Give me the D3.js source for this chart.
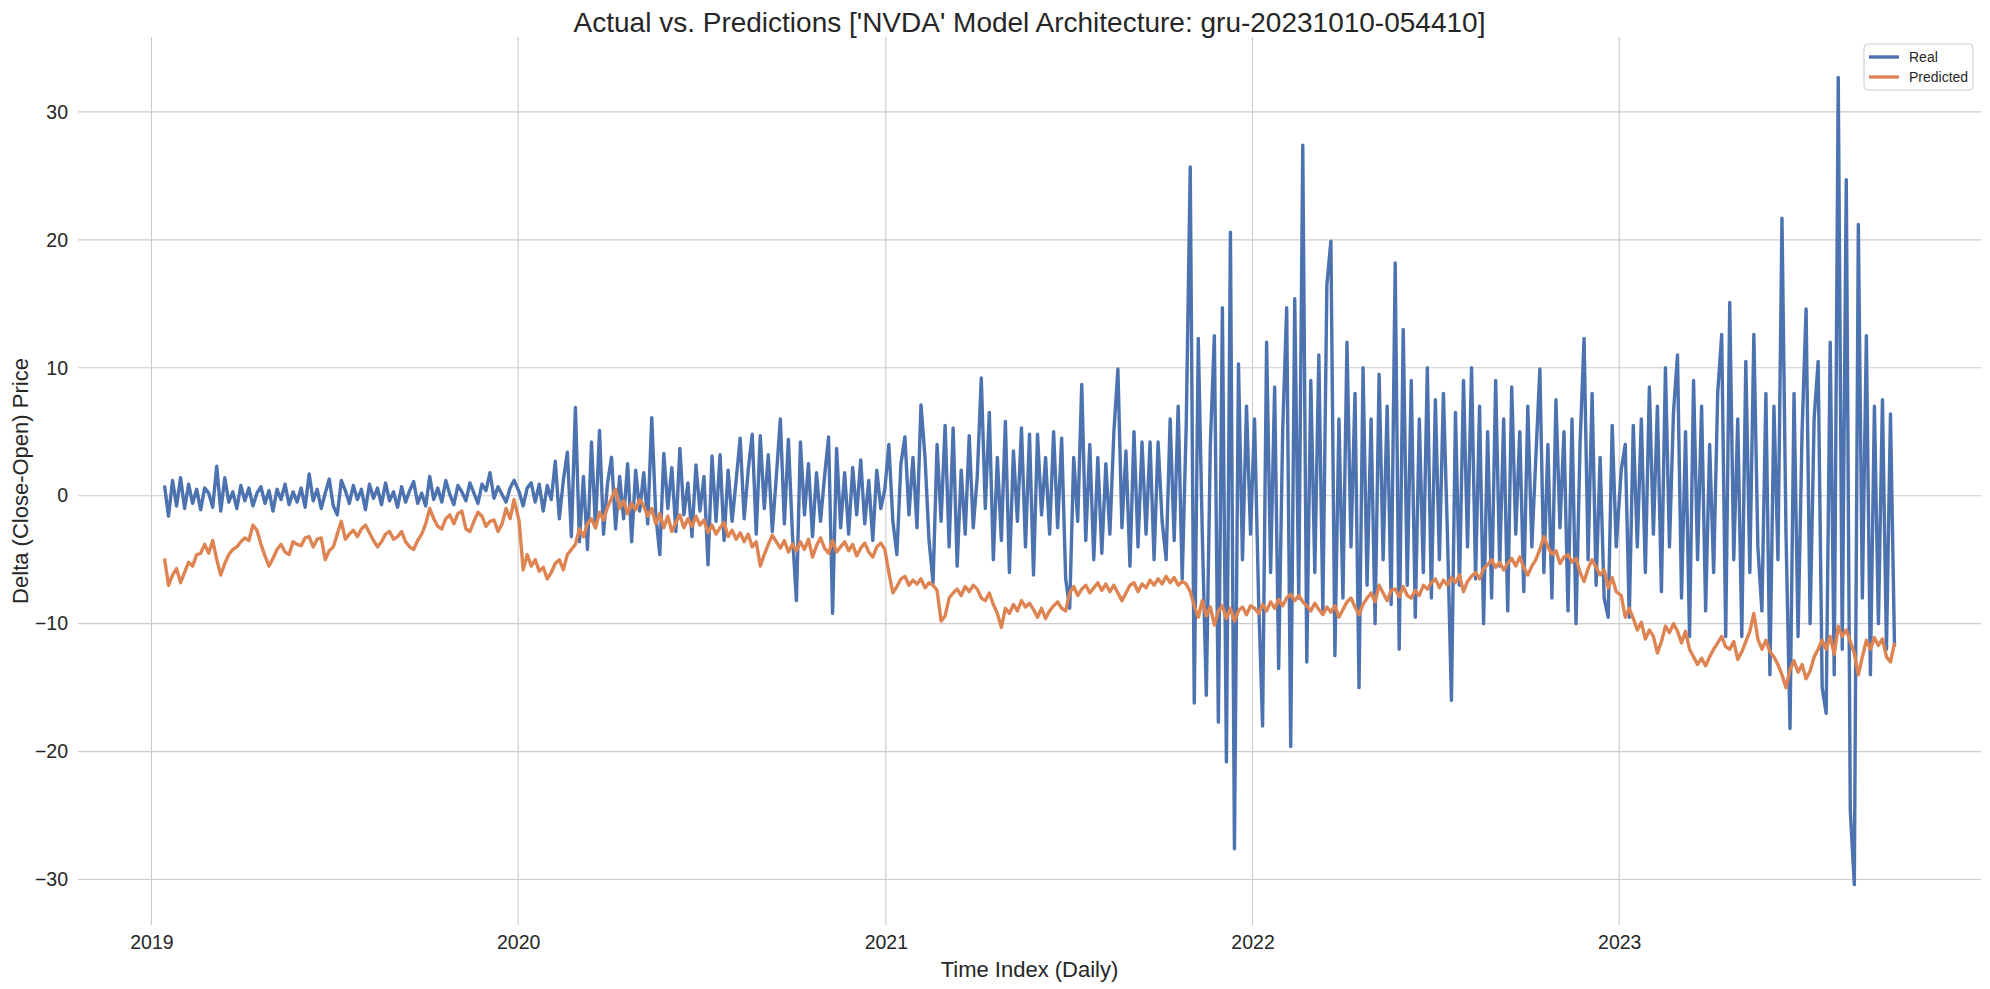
<!DOCTYPE html>
<html>
<head>
<meta charset="utf-8">
<script src="https://d3js.org/d3.v7.min.js"></script>
<style>
  body { margin: 0; background: #fff; }
  text { font-family: "Liberation Sans", Arial, sans-serif; fill: #262626; }
</style>
</head>
<body>
<div id="chart"></div>
<script>
// sampled every 4 calendar days, each yearly block starts at its own date
var yearStarts = ["2019-01-14", "2020-01-02", "2021-01-04", "2022-01-03", "2023-01-03"];
var stepDays = 4;

var real2019 = [0.8,-1.6,1.2,-0.8,1.4,-1.0,0.9,-0.6,0.5,-1.1,
  0.6,0.2,-0.9,2.3,-1.2,1.4,-0.5,0.3,-1.0,0.8,
  -0.4,0.6,-0.8,0.2,0.7,-0.6,0.4,-1.2,0.5,-0.3,
  0.9,-0.7,0.3,-0.5,0.6,-0.9,1.7,-0.4,0.5,-1.0,
  0.2,1.3,-0.8,-1.5,1.2,0.4,-0.6,0.8,-0.3,0.5,
  -1.1,0.9,-0.2,0.6,-0.7,1.0,-0.4,0.3,-0.9,0.7,
  -0.5,0.4,1.1,-0.6,0.2,-0.8,1.5,-0.3,0.6,-0.5,
  1.2,0.1,-0.7,0.8,0.3,-0.4,1.0,0.2,-0.6,0.9,
  0.4,1.8,-0.2,0.7,0.1,-0.5,0.6,1.2];
var real2020 = [0.3,-0.8,0.6,1.0,-0.5,0.9,-1.2,0.8,-0.3,2.7,
  -1.8,1.2,3.4,-3.2,6.9,-3.6,1.5,-4.2,4.2,-2.5,
  5.1,-3.0,1.0,3.0,-2.6,1.5,-1.8,2.5,-3.6,2.0,
  -1.2,1.8,-2.2,6.1,-1.5,-4.6,3.3,-1.0,2.2,-2.8,
  3.7,-1.5,1.0,-3.2,2.4,-1.2,1.5,-5.4,3.1,-2.0,
  3.2,-3.5,2.0,-2.0,1.2,4.5,-1.8,2.0,4.8,-3.0,
  4.7,-1.0,3.2,-2.8,1.5,6.0,-2.2,4.4,-3.0,-8.2,
  4.2,-1.5,2.5,-3.2,1.8,-2.0,1.5,4.6,-9.2,3.7,
  -2.5,1.8,-3.0,2.2,-1.5,2.8,-2.2,1.2,-3.5,2.0,
  -1.0,0.5];
var real2021 = [4.0,-2.0,-4.6,2.5,4.6,-1.5,3.0,-2.5,7.1,3.0,
  -3.5,-6.8,4.0,-2.0,5.5,-4.0,5.3,-5.5,2.0,-3.0,
  4.7,-2.5,1.5,9.2,-1.0,6.5,-5.0,3.0,-3.5,5.8,
  -6.0,3.5,-2.0,5.3,-4.0,4.8,-6.2,4.8,-1.5,3.0,
  -3.0,5.0,-2.5,4.5,-6.5,-8.8,3.0,-2.0,8.7,-3.5,
  4.0,-5.0,3.0,-4.5,2.5,-3.0,5.0,9.9,-2.5,3.5,
  -5.5,5.0,-4.0,4.2,-3.0,4.2,-5.0,4.2,-2.0,-5.0,
  6.0,-3.5,7.0,-6.5,5.5,25.7,-16.2,12.3,-3.0,-15.6,
  4.0,12.5,-17.7,14.7,-20.8,20.6,-27.6,10.3,-5.0,7.0,
  -3.0];
var real2022 = [6.0,-8.0,-18.0,12.0,-6.0,8.5,-13.5,5.0,14.7,-19.6,
  15.4,-8.0,27.4,-13.0,9.0,-6.0,11.0,-9.0,16.5,19.9,
  -12.5,6.0,-8.0,12.0,-4.0,8.0,-15.0,10.0,-7.0,6.0,
  -10.0,9.5,-5.0,7.0,-8.5,18.2,-12.0,13.0,-7.0,9.0,
  -9.5,6.0,-6.0,10.0,-8.0,7.5,-5.0,8.0,-3.0,-16.0,
  6.5,-7.0,9.0,-4.0,10.0,-6.5,7.0,-10.0,5.0,-8.0,
  9.0,-5.5,6.0,-9.0,8.5,-3.0,5.0,-7.5,7.0,-4.0,
  3.0,9.9,-6.0,4.0,-8.0,7.5,-2.5,5.0,-9.0,6.0,
  -10.0,4.0,12.3,-5.0,8.0,-7.0,3.0,-8.0,-9.5,5.5,
  -4.0];
var real2023 = [2.0,4.0,-9.5,5.5,-4.0,6.0,-6.0,8.5,-3.0,7.0,
  -7.5,10.0,-4.0,6.5,11.0,-8.0,5.0,-11.0,9.0,-5.0,
  7.0,-9.0,4.0,-6.0,8.0,12.6,-11.0,15.1,-5.0,6.0,
  -11.0,10.5,-6.0,12.6,-4.0,-9.0,8.0,-14.0,7.0,-5.0,
  21.7,-3.0,-18.2,8.0,-11.0,5.0,14.6,-10.0,6.0,10.5,
  -15.0,-17.0,12.0,-14.0,32.7,-12.0,24.7,-24.6,-30.4,21.2,
  -8.0,12.5,-14.0,7.0,-10.0,7.5,-12.0,6.4,-11.8];

var pred2019 = [-4.9,-7.0,-6.2,-5.7,-6.8,-6.0,-5.2,-5.5,-4.6,-4.5,
  -3.8,-4.5,-3.5,-5.0,-6.2,-5.3,-4.6,-4.2,-4.0,-3.6,
  -3.3,-3.5,-2.3,-2.7,-3.8,-4.7,-5.5,-4.9,-4.2,-3.8,
  -4.4,-4.6,-3.6,-3.8,-3.9,-3.3,-3.2,-4.0,-3.4,-3.3,
  -5.0,-4.3,-4.0,-3.0,-2.0,-3.4,-3.0,-2.7,-3.2,-2.6,
  -2.3,-2.9,-3.5,-4.0,-3.6,-3.0,-2.8,-3.4,-3.2,-2.8,
  -3.6,-4.0,-4.2,-3.5,-3.0,-2.2,-1.0,-1.8,-2.4,-2.6,
  -1.8,-1.5,-2.2,-1.4,-1.2,-2.6,-2.8,-2.0,-1.3,-1.6,
  -2.4,-2.0,-1.9,-2.8,-2.2,-1.0,-1.8,-0.3];
var pred2020 = [-2.0,-5.8,-4.6,-5.5,-5.0,-5.9,-5.6,-6.5,-6.0,-5.3,
  -5.0,-5.8,-4.6,-4.2,-3.8,-2.6,-3.2,-2.2,-1.8,-2.5,
  -1.3,-1.9,-0.9,-0.2,0.5,-1.0,-0.4,-1.4,-0.6,-1.1,
  -0.3,-0.8,-1.6,-1.0,-2.2,-1.4,-2.5,-1.6,-2.8,-2.1,
  -1.5,-2.5,-1.8,-2.4,-1.6,-2.3,-1.9,-2.9,-2.3,-3.0,
  -2.5,-2.1,-3.2,-2.7,-3.4,-2.9,-3.6,-3.0,-4.0,-3.6,
  -5.5,-4.6,-3.8,-3.1,-3.6,-4.1,-3.5,-4.4,-3.8,-4.3,
  -3.6,-4.2,-3.4,-4.8,-3.9,-3.3,-4.1,-4.5,-3.5,-4.4,
  -4.0,-3.6,-4.3,-3.8,-4.7,-4.1,-3.7,-4.4,-4.8,-4.0,
  -3.7,-4.2];
var pred2021 = [-6.0,-7.6,-7.1,-6.5,-6.3,-7.0,-6.6,-6.9,-6.5,-7.2,
  -6.8,-7.0,-7.4,-9.8,-9.4,-8.0,-7.6,-7.3,-7.8,-7.1,
  -7.5,-7.0,-7.3,-8.0,-8.2,-7.6,-8.5,-9.2,-10.3,-8.8,
  -9.2,-8.5,-9.0,-8.2,-8.7,-8.4,-8.9,-9.5,-8.8,-9.6,
  -9.0,-8.6,-8.3,-8.8,-9.0,-7.6,-7.1,-7.8,-7.3,-7.0,
  -7.6,-7.2,-6.8,-7.4,-6.9,-7.5,-7.0,-7.6,-8.2,-7.6,
  -7.0,-6.8,-7.5,-6.9,-7.2,-6.6,-7.0,-6.5,-6.9,-6.3,
  -6.8,-6.4,-7.0,-6.7,-6.9,-7.5,-8.6,-9.5,-8.2,-9.4,
  -8.7,-10.1,-9.0,-8.6,-9.6,-8.8,-9.8,-9.0,-8.7,-9.3,
  -8.6];
var pred2022 = [-8.8,-9.2,-8.5,-9.0,-8.3,-8.8,-8.1,-8.6,-8.0,-7.7,
  -8.2,-7.8,-8.3,-8.6,-9.0,-8.4,-8.9,-9.3,-8.7,-9.1,
  -8.6,-9.5,-8.9,-8.3,-8.0,-8.7,-9.3,-8.5,-8.0,-7.6,
  -8.3,-7.0,-7.6,-8.2,-7.4,-7.3,-7.9,-7.1,-7.8,-8.0,
  -7.4,-7.8,-7.0,-7.3,-6.8,-6.5,-7.2,-6.6,-7.0,-6.4,
  -6.8,-6.2,-7.5,-6.7,-6.3,-6.0,-6.5,-5.7,-5.4,-5.0,
  -5.6,-5.2,-5.8,-5.3,-4.9,-5.5,-4.8,-5.6,-6.2,-5.5,
  -5.0,-4.2,-3.2,-4.0,-4.6,-4.3,-5.3,-4.8,-4.6,-5.2,
  -4.9,-6.0,-6.7,-5.7,-5.0,-5.6,-6.2,-5.8,-7.2,-6.4,
  -7.5];
var pred2023 = [-7.8,-9.5,-8.8,-9.6,-10.5,-9.9,-11.2,-10.5,-11.0,-12.3,
  -11.4,-10.2,-10.7,-10.0,-10.6,-11.5,-10.6,-12.0,-12.6,-13.2,
  -12.7,-13.3,-12.6,-12.0,-11.5,-11.0,-11.8,-12.0,-11.4,-12.8,
  -12.2,-11.4,-10.6,-9.2,-11.2,-12.0,-11.3,-12.2,-12.6,-13.2,
  -14.0,-15.0,-13.6,-12.9,-13.8,-13.2,-14.3,-13.7,-12.6,-12.0,
  -11.3,-12.0,-11.0,-12.4,-10.2,-11.0,-10.5,-11.4,-12.3,-14.0,
  -12.6,-11.3,-12.0,-11.1,-11.7,-11.2,-12.6,-13.0,-11.5];

var seriesNames = ["Real", "Predicted"];
var seriesColors = ["#4c72b0", "#dd8452"];
var yTicks = [-30, -20, -10, 0, 10, 20, 30];
var xTickYears = [2019, 2020, 2021, 2022, 2023];

var titleText = "Actual vs. Predictions ['NVDA' Model Architecture: gru-20231010-054410]";

// build date/value pairs
var parseDate = d3.timeParse("%Y-%m-%d");
function buildSeries(blocks) {
  var out = [];
  blocks.forEach(function(vals, k) {
    var start = parseDate(yearStarts[k]);
    vals.forEach(function(v, j) {
      out.push({ date: d3.timeDay.offset(start, j * stepDays), value: v });
    });
  });
  return out;
}
var realData = buildSeries([real2019, real2020, real2021, real2022, real2023]);
var predData = buildSeries([pred2019, pred2020, pred2021, pred2022, pred2023]);
var allSeries = [realData, predData];

var svgWidth = 1990, svgHeight = 989;
var margin = { top: 37, right: 9, bottom: 64, left: 78 };
var chartWidth = svgWidth - margin.left - margin.right;
var chartHeight = svgHeight - margin.top - margin.bottom;

var svg = d3.select("#chart").append("svg")
  .attr("width", svgWidth)
  .attr("height", svgHeight)
  .style("display", "block");

svg.append("rect").attr("width", svgWidth).attr("height", svgHeight).attr("fill", "#fff");

var chartGroup = svg.append("g")
  .attr("transform", "translate(" + margin.left + "," + margin.top + ")");

// matplotlib-like 5% margins
var allPoints = realData.concat(predData);
var xExt = d3.extent(allPoints, function(d) { return d.date; });
var xPad = (xExt[1] - xExt[0]) * 0.05;
var yExt = d3.extent(allPoints, function(d) { return d.value; });
var yPad = (yExt[1] - yExt[0]) * 0.05;

var xScale = d3.scaleTime()
  .domain([new Date(+xExt[0] - xPad), new Date(+xExt[1] + xPad)])
  .range([0, chartWidth]);
var yScale = d3.scaleLinear()
  .domain([yExt[0] - yPad, yExt[1] + yPad])
  .range([chartHeight, 0]);

var xTickDates = xTickYears.map(function(y) { return new Date(y, 0, 1); });

// grid
chartGroup.append("g")
  .selectAll("line").data(yTicks).enter().append("line")
  .attr("x1", 0).attr("x2", chartWidth)
  .attr("y1", function(d) { return yScale(d); })
  .attr("y2", function(d) { return yScale(d); })
  .attr("stroke", "#cccccc").attr("stroke-width", 1.1);
chartGroup.append("g")
  .selectAll("line").data(xTickDates).enter().append("line")
  .attr("y1", 0).attr("y2", chartHeight)
  .attr("x1", function(d) { return xScale(d); })
  .attr("x2", function(d) { return xScale(d); })
  .attr("stroke", "#cccccc").attr("stroke-width", 1.1);

// axes (labels only, no spines)
var leftAxis = d3.axisLeft(yScale).tickValues(yTicks).tickSize(0).tickPadding(10);
var bottomAxis = d3.axisBottom(xScale).tickValues(xTickDates)
  .tickFormat(d3.timeFormat("%Y")).tickSize(0).tickPadding(10);

var yAxisG = chartGroup.append("g").call(leftAxis);
var xAxisG = chartGroup.append("g")
  .attr("transform", "translate(0," + chartHeight + ")")
  .call(bottomAxis);
[yAxisG, xAxisG].forEach(function(g) {
  g.select(".domain").remove();
  g.selectAll("text")
    .attr("font-family", "Liberation Sans, Arial, sans-serif")
    .attr("font-size", 19.5)
    .attr("fill", "#262626");
});

// lines
var line = d3.line()
  .x(function(d) { return xScale(d.date); })
  .y(function(d) { return yScale(d.value); });

allSeries.forEach(function(data, i) {
  chartGroup.append("path")
    .datum(data)
    .attr("d", line)
    .attr("fill", "none")
    .attr("stroke", seriesColors[i])
    .attr("stroke-width", 3.4)
    .attr("stroke-linejoin", "round");
});

// title & axis labels
svg.append("text")
  .attr("x", margin.left + chartWidth / 2)
  .attr("y", 32)
  .attr("text-anchor", "middle")
  .attr("font-size", 28)
  .text(titleText);

svg.append("text")
  .attr("x", margin.left + chartWidth / 2)
  .attr("y", 977)
  .attr("text-anchor", "middle")
  .attr("font-size", 22)
  .text("Time Index (Daily)");

svg.append("text")
  .attr("transform", "translate(28," + (margin.top + chartHeight / 2) + ") rotate(-90)")
  .attr("text-anchor", "middle")
  .attr("font-size", 22)
  .text("Delta (Close-Open) Price");

// legend
var legend = svg.append("g").attr("transform", "translate(1864,44)");
legend.append("rect")
  .attr("width", 109).attr("height", 46)
  .attr("rx", 4)
  .attr("fill", "#fff").attr("fill-opacity", 0.8)
  .attr("stroke", "#cccccc");
seriesNames.forEach(function(name, i) {
  var yy = 13 + i * 20;
  legend.append("line")
    .attr("x1", 5).attr("x2", 35)
    .attr("y1", yy).attr("y2", yy)
    .attr("stroke", seriesColors[i]).attr("stroke-width", 3.4);
  legend.append("text")
    .attr("x", 45).attr("y", yy)
    .attr("dy", "0.35em")
    .attr("font-size", 14)
    .text(name);
});
</script>
</body>
</html>
